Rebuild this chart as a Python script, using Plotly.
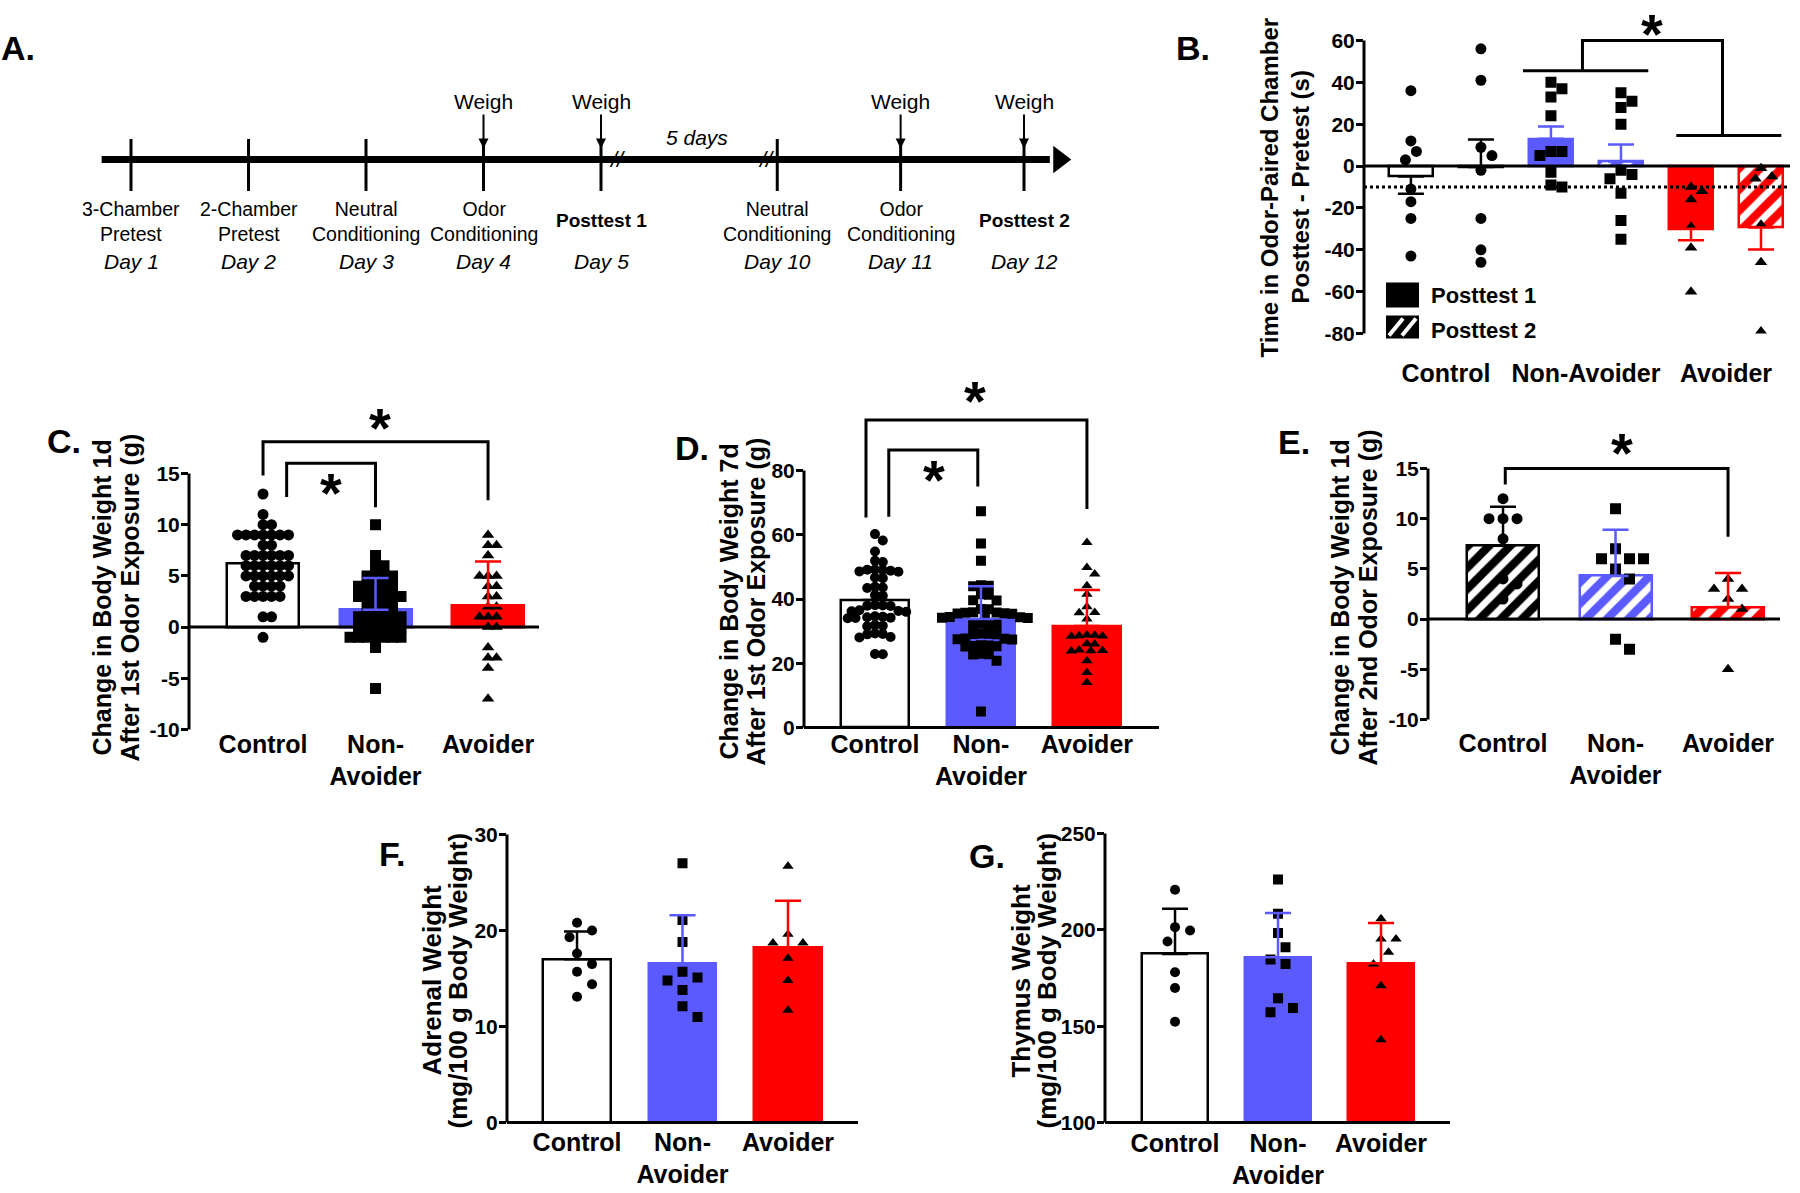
import plotly.graph_objects as go

W, H = 1800, 1193
FONT = 'Liberation Sans, Arial, sans-serif'
BLUE = '#5a5aff'
RED = '#ff0000'

# ---------------- panel A: timeline ----------------
tl_slots = [0, 1, 2, 3, 4, 5.5, 6.55, 7.6]
tl_events = ['3-Chamber<br>Pretest', '2-Chamber<br>Pretest', 'Neutral<br>Conditioning',
             'Odor<br>Conditioning', '<b>Posttest 1</b>', 'Neutral<br>Conditioning',
             'Odor<br>Conditioning', '<b>Posttest 2</b>']
tl_days = ['Day 1', 'Day 2', 'Day 3', 'Day 4', 'Day 5', 'Day 10', 'Day 11', 'Day 12']
tl_weigh = [False, False, False, True, True, False, True, True]
tl_span = [-0.25, 7.82]
tl_breaks = [4.14, 5.4]
tl_gap_label = '5 days'
tl_gap_at = 4.82

# ---------------- panel B: place preference ----------------
b_pos = [1, 2, 3, 4, 5, 6]
b_ticks = [1.5, 3.5, 5.5]
b_labels = ['Control', 'Non-Avoider', 'Avoider']
b_mean = [-5.0, -0.5, 13.0, 2.2, -30.0, -29.4]
b_err_up = [0, 13.2, 5.9, 8.1, 0, 0]
b_err_dn = [8.2, 0, 0, 0, 5.5, 10.5]
b_points = [
    [36, 12, 7, 3, -11, -17, -25, -43],
    [56, 41, 9, 5, -2, -25, -40, -46],
    [40, 37, 33, 24, 7, 5, 7, -3, -10, -9],
    [35, 31, 28, 20, -2, -4, -6, -13, -26, -35],
    [-12, -10, -16, -29, -39, -60],
    [-5, -6, -1, -28, -46, -79],
]
b_legend = ['Posttest 1', 'Posttest 2']

groups = ['Control', 'Non-<br>Avoider', 'Avoider']

# ---------------- panel C: weight change 1d after 1st exposure ----------------
c_mean = [6.2, 1.7, 2.1]
c_err = [2.6, 3.1, 4.3]
c_points = [
    [13, 11, 10, 10, 9, 9, 9, 9, 9, 9, 9, 8, 8, 7, 7, 7, 7, 7, 7, 6, 6, 6, 6, 6, 6,
     5, 5, 5, 5, 5, 5, 4, 4, 4, 4, 3, 3, 3, 3, 3, 1, 1, -1],
    [10, 7, 6, 6, 5, 5, 5, 5, 4, 4, 4, 4, 4, 3, 3, 3, 3, 3, 3, 2, 2, 2, 2, 1, 1, 1, 1, 1, 1,
     0, 0, 0, 0, 0, 0, -1, -1, -1, -1, -1, -1, -1, -2, -6],
    [9, 8, 8, 7, 5, 5, 5, 4, 4, 3, 3, 2, 2, 1, 1, 1, 0, 0, -2, -3, -3, -4, -7],
]

# ---------------- panel D: weight change 7d after 1st exposure ----------------
d_mean = [39.7, 33.8, 31.6]
d_err = [9.6, 10.2, 11.2]
d_points = [
    [60.2, 58.2, 54.8, 51.9, 51.5, 49.0, 48.8, 48.6, 49.2, 48.5, 49.1, 46.7, 46.5, 43.8, 43.6,
     43.4, 41.2, 41.0, 37.9, 38.1, 37.8, 38.0, 36.3, 36.0, 36.5, 36.2, 34.3, 34.5, 34.2, 34.0,
     34.6, 34.1, 31.7, 31.9, 31.5, 29.1, 29.3, 29.0, 28.0, 28.2, 22.8, 22.9],
    [67.3, 57.3, 51.9, 44.1, 44.3, 44.0, 41.5, 41.3, 39.5, 39.6, 36.9, 36.8, 35.8, 35.9, 35.6,
     35.7, 35.4, 35.5, 34.3, 34.4, 34.1, 34.2, 34.5, 32.2, 32.4, 32.0, 32.1, 29.1, 29.3, 29.0,
     29.2, 27.5, 27.7, 27.4, 27.6, 25.4, 25.6, 25.3, 25.5, 25.2, 22.8, 23.0, 22.7, 20.8, 5.0],
    [57.6, 49.8, 47.8, 44.1, 41.5, 37.6, 35.8, 35.7, 33.8, 28.6, 28.7, 28.5, 28.8, 28.4, 26.0,
     26.1, 23.9, 24.0, 23.8, 24.1, 20.8, 17.1, 14.0],
]

# ---------------- panel E: weight change 1d after 2nd exposure ----------------
e_mean = [7.3, 4.3, 1.2]
e_err = [3.9, 4.6, 3.4]
e_points = [
    [12, 10, 10, 10, 8, 4, 3.5, 2],
    [11, 7, 6, 6, 6, 5, 4, -2, -3],
    [4, 3, 3, 2, 1, -5],
]

# ---------------- panel F: adrenal weight ----------------
f_mean = [17.0, 16.6, 18.2]
f_err = [2.9, 5.0, 4.9]
f_points = [
    [20.8, 20.0, 19.3, 17.6, 16.5, 15.7, 14.4, 13.1],
    [27.0, 21.1, 18.8, 15.7, 14.8, 15.1, 13.8, 12.1, 11.0],
    [26.7, 19.6, 18.7, 18.7, 17.1, 14.8, 11.7],
]

# ---------------- panel G: thymus weight ----------------
g_mean = [187.5, 185.8, 182.7]
g_err = [23.5, 23.0, 20.8]
g_points = [
    [220.8, 201.4, 199.7, 194.0, 178.0, 169.8, 152.3],
    [226.2, 208.3, 198.4, 191.0, 184.6, 182.3, 164.5, 159.4, 157.2],
    [205.7, 195.3, 195.3, 188.4, 182.3, 171.0, 143.0],
]

fig = go.Figure()
layout = {}
shapes = []
annotations = []

# the captured page comes out slightly squeezed vertically (top ~11 px blank),
# so vertical pixel positions measured on the reference go through this map
Y_OFF, Y_K = 11.5, 0.9807


def Y(p):
    return (p - Y_OFF) / Y_K


def py(p):
    return 1 - Y(p) / H


def swarm(vals, ypx, xpx, sep):
    cands = [0.0]
    for k in range(1, 40):
        cands += [k * sep / 2, -k * sep / 2]
    placed = []
    out = [0.0] * len(vals)
    for i in sorted(range(len(vals)), key=lambda j: -vals[j]):
        y = vals[i] * ypx
        for c in cands:
            if all((c - px) ** 2 + (y - pyy) ** 2 >= (sep * 0.999) ** 2 for px, pyy in placed):
                placed.append((c, y))
                out[i] = c / xpx
                break
    return out


def text(x, y, s, size, xref='paper', yref='paper', bold=False, italic=False, **kw):
    if bold:
        s = '<b>' + s + '</b>'
    if italic:
        s = '<i>' + s + '</i>'
    annotations.append(dict(x=x, y=y, xref=xref, yref=yref, text=s, showarrow=False,
                            font=dict(family=FONT, size=size, color='black'), **kw))


def panel(n, xpx, xr, ycal, yr, ytop, yticks, xline, xticks, xtext, standoff,
          pos, mean, up, dn, pts, symbols, fills, edges, hatch, errc, sep, msize,
          brackets=(), stars=(), title=(), title_x=(), title_y=0, title_size=25,
          letter=None, letter_at=None):
    sfx = '' if n == 1 else str(n)
    (va, pa), (vb, pb) = ycal
    s = (pb - pa) / (va - vb)
    ypix = lambda v: pa + (va - v) * s
    ydom = [py(ypix(yr[0])), py(ypix(yr[1]))]
    xpxu = (xpx[1] - xpx[0]) / (xr[1] - xr[0])
    xpix = lambda v: xpx[0] + (v - xr[0]) * xpxu
    tf = dict(family=FONT, size=21, color='black', weight='bold')
    layout['xaxis' + sfx] = dict(domain=[xpx[0] / W, xpx[1] / W], range=list(xr), anchor='y' + sfx,
                                 showline=False, showgrid=False, zeroline=False, ticks='',
                                 tickvals=xticks, ticktext=xtext, ticklabelstandoff=standoff,
                                 tickfont=dict(family=FONT, size=25, color='black', weight='bold'))
    layout['yaxis' + sfx] = dict(domain=ydom, range=list(yr), anchor='x' + sfx,
                                 showline=False, showgrid=False, zeroline=False,
                                 ticks='outside', ticklen=7, tickwidth=3, tickcolor='black',
                                 ticklabelstandoff=-3,
                                 tickvals=yticks, ticktext=[str(v) for v in yticks], tickfont=tf)
    fr = lambda v: (v - yr[0]) / (yr[1] - yr[0])
    xd, yd = 'x' + sfx + ' domain', 'y' + sfx + ' domain'
    shapes.append(dict(type='line', xref=xd, yref=yd, x0=0, x1=0, y0=0, y1=fr(ytop),
                       line=dict(color='black', width=3)))
    shapes.append(dict(type='line', xref=xd, yref=yd, x0=0, x1=1, y0=fr(xline), y1=fr(xline),
                       line=dict(color='black', width=3)))
    ax = dict(xaxis='x' + sfx, yaxis='y' + sfx)
    for i, p in enumerate(pos):
        fig.add_trace(go.Bar(
            x=[p], y=[mean[i]], width=0.64, showlegend=False,
            marker=dict(color=fills[i], line=dict(color=edges[i], width=2.5),
                        pattern=dict(shape=hatch[i], fgcolor=edges[i], bgcolor='white',
                                     fgopacity=1, solidity=0.55, size=15)), **ax))
    for i, p in enumerate(pos):
        offs = swarm(pts[i], s, xpxu, sep)
        fig.add_trace(go.Scatter(
            x=[p + o for o in offs], y=pts[i], mode='markers', showlegend=False,
            marker=dict(symbol=symbols[i], size=msize, color='black'), **ax))
    for i, p in enumerate(pos):
        fig.add_trace(go.Scatter(
            x=[p], y=[mean[i]], mode='markers', showlegend=False,
            marker=dict(size=1, color='rgba(0,0,0,0)'),
            error_y=dict(type='data', symmetric=False, array=[up[i]], arrayminus=[dn[i]],
                         color=errc[i], thickness=2.5, width=13), **ax))
    for (x1, x2), top, (l1, l2) in brackets:
        fig.add_trace(go.Scatter(x=[x1, x1, x2, x2], y=[l1, top, top, l2], mode='lines',
                                 showlegend=False, line=dict(color='black', width=3), **ax))
    for sx, sy in stars:
        annotations.append(dict(x=xpix(sx) / W, y=py(ypix(sy)), xref='paper', yref='paper',
                                text='<b>*</b>', showarrow=False, yshift=-7,
                                xanchor='center', yanchor='middle',
                                font=dict(family=FONT, size=56, color='black')))
    for line, tx in zip(title, title_x):
        text(tx / W, py(title_y), line, title_size, bold=True, textangle=-90,
             xanchor='center', yanchor='middle')
    if letter:
        text(letter_at[0] / W, py(letter_at[1]), letter, 34, bold=True,
             xanchor='center', yanchor='middle')
    return fr


# ---------------- build B ----------------
frb = panel(1, (1364, 1790), (0.33, 6.414), ((60, 40), (-80, 333)), (-80, 63), 60,
            list(range(-80, 61, 20)), 0, b_ticks, b_labels, 22,
            b_pos, b_mean, b_err_up, b_err_dn, b_points,
            ['circle', 'circle', 'square', 'square', 'triangle-up', 'triangle-up'],
            ['white', 'white', BLUE, 'white', RED, 'white'],
            ['black', 'black', BLUE, BLUE, RED, RED],
            ['', '/', '', '/', '', '/'],
            ['black', 'black', BLUE, BLUE, RED, RED], 11, 11,
            brackets=[((3.45, 5.45), 60, (45.6, 14.6)),
                      ((2.6, 4.39), 45.6, (45.6, 45.6)),
                      ((4.79, 6.29), 14.6, (14.6, 14.6))],
            stars=[(4.44, 66.8)],
            title=['Time in Odor-Paired Chamber', 'Posttest - Pretest (s)'],
            title_x=(1270, 1301), title_y=187, title_size=24,
            letter='B.', letter_at=(1193, 47))
shapes.append(dict(type='line', xref='x domain', yref='y domain', x0=0, x1=1,
                   y0=frb(-10), y1=frb(-10), line=dict(color='black', width=3, dash='dot')))
# legend keys
shapes.append(dict(type='rect', xref='paper', yref='paper', x0=1386 / W, x1=1419 / W,
                   y0=py(307), y1=py(282), fillcolor='black', line=dict(width=0)))
shapes.append(dict(type='rect', xref='paper', yref='paper', x0=1386 / W, x1=1419 / W,
                   y0=py(338), y1=py(315), fillcolor='black', line=dict(width=0)))
for x0 in (1389, 1402):
    shapes.append(dict(type='line', xref='paper', yref='paper', x0=x0 / W, x1=(x0 + 14) / W,
                       y0=py(335), y1=py(318), line=dict(color='white', width=4)))
for k, lab in enumerate(b_legend):
    text(1429 / W, py(295 + 35 * k), lab, 22, bold=True, xanchor='left', yanchor='middle')

# ---------------- build C ----------------
panel(2, (189, 539), (0.342, 3.453), ((15, 473), (-10, 729)), (-10, 19), 15,
      list(range(-10, 16, 5)), 0, [1, 2, 3], groups, -3,
      [1, 2, 3], c_mean, c_err, [0, 0, 0], c_points,
      ['circle', 'square', 'triangle-up'], ['white', BLUE, RED], ['black', BLUE, RED],
      ['', '', ''], ['black', BLUE, RED], 8.5, 11,
      brackets=[((1.0, 3.0), 18.1, (14.8, 12.4)), ((1.21, 2.0), 16.0, (12.7, 11.7))],
      stars=[(2.04, 20.2), (1.6, 13.8)],
      title=['Change in Body Weight 1d', 'After 1st Odor Exposure (g)'],
      title_x=(102, 130), title_y=597,
      letter='C.', letter_at=(64, 440))

# ---------------- build D ----------------
panel(3, (804, 1159), (0.33, 3.68), ((80, 470), (0, 727)), (0, 100), 80,
      list(range(0, 81, 20)), 0, [1, 2, 3], groups, -1,
      [1, 2, 3], d_mean, d_err, [0, 0, 0], d_points,
      ['circle', 'square', 'triangle-up'], ['white', BLUE, RED], ['black', BLUE, RED],
      ['', '', ''], ['black', BLUE, RED], 7.8, 10,
      brackets=[((0.915, 3.0), 95.7, (65.4, 68.0)), ((1.13, 1.97), 86.4, (65.6, 75.0))],
      stars=[(1.94, 104), (1.56, 79.4)],
      title=['Change in Body Weight 7d', 'After 1st Odor Exposure (g)'],
      title_x=(729, 756), title_y=601,
      letter='D.', letter_at=(692, 447))

# ---------------- build E ----------------
panel(4, (1428, 1780), (0.333, 3.462), ((15, 468), (-10, 719)), (-10, 16), 15,
      list(range(-10, 16, 5)), 0, [1, 2, 3], groups, 6,
      [1, 2, 3], e_mean, e_err, [0, 0, 0], e_points,
      ['circle', 'square', 'triangle-up'], ['white', 'white', 'white'], ['black', BLUE, RED],
      ['/', '/', '/'], ['black', BLUE, RED], 14, 11,
      brackets=[((1.02, 3.0), 15.0, (13.4, 8.2))],
      stars=[(2.06, 17.3)],
      title=['Change in Body Weight 1d', 'After 2nd Odor Exposure (g)'],
      title_x=(1340, 1368), title_y=597,
      letter='E.', letter_at=(1294, 441))

# ---------------- build F ----------------
panel(5, (507, 858), (0.336, 3.664), ((30, 834), (0, 1122)), (0, 30), 30,
      [0, 10, 20, 30], 0, [1, 2, 3], groups, 2,
      [1, 2, 3], f_mean, f_err, [0, 0, 0], f_points,
      ['circle', 'square', 'triangle-up'], ['white', BLUE, RED], ['black', BLUE, RED],
      ['', '', ''], ['black', BLUE, RED], 15, 10,
      title=['Adrenal Weight', '(mg/100 g Body Weight)'],
      title_x=(432, 458), title_y=980, title_size=26,
      letter='F.', letter_at=(392, 853))

# ---------------- build G ----------------
panel(6, (1105, 1450), (0.32, 3.67), ((250, 833), (100, 1122)), (100, 250), 250,
      [100, 150, 200, 250], 100, [1, 2, 3], groups, 3,
      [1, 2, 3], g_mean, g_err, [0, 0, 0], g_points,
      ['circle', 'square', 'triangle-up'], ['white', BLUE, RED], ['black', BLUE, RED],
      ['', '', ''], ['black', BLUE, RED], 15, 10,
      title=['Thymus Weight', '(mg/100 g Body Weight)'],
      title_x=(1021, 1047), title_y=980, title_size=26,
      letter='G.', letter_at=(987, 855))

# ---------------- build A (timeline) ----------------
layout['xaxis7'] = dict(domain=[0, 1], range=[-131 / 117.5, (W - 131) / 117.5], anchor='y7',
                        visible=False)
layout['yaxis7'] = dict(domain=[py(259), py(59)], range=[-1, 1], anchor='x7', visible=False)
a_ax = dict(xaxis='x7', yaxis='y7')
fig.add_trace(go.Scatter(x=tl_span, y=[0, 0], mode='lines', showlegend=False,
                         line=dict(color='black', width=7), **a_ax))
fig.add_trace(go.Scatter(x=[tl_span[1] + 0.08], y=[0], mode='markers', showlegend=False,
                         marker=dict(symbol='triangle-right', size=24, color='black'), **a_ax))
fig.add_trace(go.Scatter(x=tl_slots, y=[-0.055] * len(tl_slots), mode='markers',
                         showlegend=False,
                         marker=dict(symbol='line-ns', size=37,
                                     line=dict(color='black', width=3)), **a_ax))
for x, ev, day, wg in zip(tl_slots, tl_events, tl_days, tl_weigh):
    bold_ev = ev.startswith('<b>')
    yc = 220 if bold_ev else 220.5
    text(x, py(yc), ev, 19 if bold_ev else 19.5, xref='x7', xanchor='center', yanchor='middle')
    text(x, py(261), day, 21, xref='x7', italic=True, xanchor='center', yanchor='middle')
    if wg:
        annotations.append(dict(x=x, y=0.11, xref='x7', yref='y7', text='Weigh',
                                showarrow=True, arrowhead=2, arrowsize=1, arrowwidth=2,
                                arrowcolor='black', ax=0, ay=-46 / Y_K,
                                font=dict(family=FONT, size=21, color='black')))
for bx in tl_breaks:
    text(bx, 0, '//', 22, xref='x7', yref='y7', italic=True, xanchor='center', yanchor='middle')
text(tl_gap_at, 0.22, tl_gap_label, 21, xref='x7', yref='y7', italic=True,
     xanchor='center', yanchor='middle')
text(18 / W, py(47), 'A.', 34, bold=True, xanchor='center', yanchor='middle')

fig.update_layout(width=W, height=H, margin=dict(l=0, r=0, t=0, b=0),
                  paper_bgcolor='white', plot_bgcolor='rgba(0,0,0,0)',
                  showlegend=False, bargap=0, shapes=shapes, annotations=annotations,
                  font=dict(family=FONT, color='black'), **layout)
fig.write_html('out.html', config={'displayModeBar': False},
               post_script="document.body.style.margin='0px';")
